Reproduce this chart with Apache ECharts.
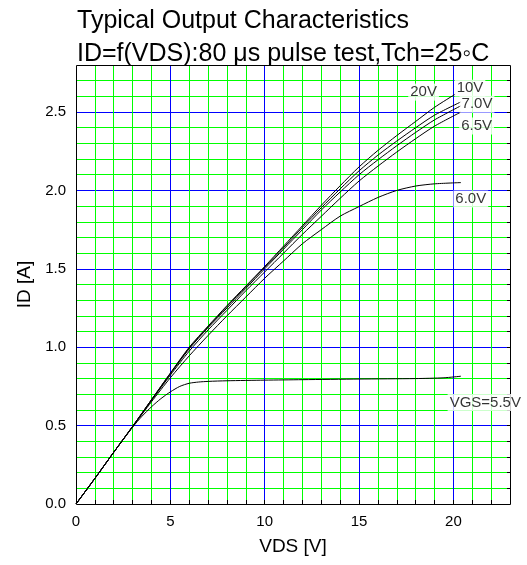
<!DOCTYPE html>
<html>
<head>
<meta charset="utf-8">
<script src="https://cdn.jsdelivr.net/npm/echarts@6/dist/echarts.min.js"></script>
<style>
  html, body { margin: 0; padding: 0; background: #fff; }
  #chart { width: 527px; height: 565px; }
</style>
</head>
<body>
<div id="chart"></div>
<script>
// Drain-source voltage sample points (V)
const vdsSteps   = [0, 1, 2, 3, 4, 5, 6, 7, 8, 9, 10, 11, 12, 13, 14, 15, 16, 17, 18, 19, 20.4];
const vdsSteps20 = [0, 1, 2, 3, 4, 5, 6, 7, 8, 9, 10, 11, 12, 13, 14, 15, 16, 17, 18, 19, 20.1];
const vdsSteps55 = [0, 1, 2, 3, 3.5, 4, 4.5, 5, 5.5, 6, 6.5, 7, 8, 10, 12, 15, 18, 19.5, 20.4];

// Drain current (A) for each gate-source voltage
const idVgs20 = [0, 0.163, 0.33, 0.495, 0.665, 0.835, 1.0, 1.135, 1.265, 1.39, 1.515, 1.645, 1.775, 1.905, 2.03, 2.15, 2.255, 2.35, 2.44, 2.53, 2.614];
const idVgs10 = [0, 0.163, 0.33, 0.495, 0.665, 0.833, 0.995, 1.13, 1.26, 1.385, 1.51, 1.635, 1.765, 1.89, 2.01, 2.125, 2.225, 2.315, 2.4, 2.48, 2.565];
const idVgs70 = [0, 0.163, 0.33, 0.495, 0.663, 0.83, 0.99, 1.125, 1.25, 1.375, 1.5, 1.625, 1.75, 1.875, 1.99, 2.1, 2.195, 2.285, 2.37, 2.45, 2.54];
const idVgs65 = [0, 0.163, 0.33, 0.494, 0.66, 0.822, 0.975, 1.11, 1.235, 1.36, 1.48, 1.6, 1.72, 1.835, 1.95, 2.06, 2.155, 2.245, 2.33, 2.41, 2.5];
const idVgs60 = [0, 0.163, 0.33, 0.492, 0.652, 0.805, 0.945, 1.075, 1.2, 1.32, 1.44, 1.55, 1.66, 1.75, 1.836, 1.897, 1.955, 2.0, 2.028, 2.042, 2.05];
const idVgs55 = [0, 0.163, 0.33, 0.49, 0.56, 0.62, 0.672, 0.715, 0.75, 0.77, 0.778, 0.782, 0.786, 0.79, 0.793, 0.797, 0.8, 0.805, 0.815];

// Curve tags and where they sit (V, A)
const curveTags = ['20V', '10V', '7.0V', '6.5V', '6.0V', 'VGS=5.5V'];
const tagAnchors = [[18.42, 2.627], [20.88, 2.652], [21.25, 2.55], [21.23, 2.411], [20.92, 1.946], [21.69, 0.647]];

const titleLines = ['Typical Output Characteristics', 'ID=f(VDS):80 \u03bcs pulse test,Tch=25\u25e6C'];
const xName = 'VDS [V]';
const yName = 'ID [A]';

const FONT = '"Liberation Sans", Arial, Helvetica, sans-serif';
const GREEN = '#00ff00';
const BLUE = '#0000ff';
// every fifth grid line is a major (blue) one
const gridColors = [GREEN, GREEN, GREEN, GREEN, BLUE];

function zip(xs, ys) { return xs.map((x, i) => [x, ys[i]]); }

const curves = [
  zip(vdsSteps20, idVgs20),
  zip(vdsSteps, idVgs10),
  zip(vdsSteps, idVgs70),
  zip(vdsSteps, idVgs65),
  zip(vdsSteps, idVgs60),
  zip(vdsSteps55, idVgs55)
];

const plot = { left: 76, top: 65, width: 434, height: 439 };

const series = curves.map(pts => ({
  type: 'line',
  data: pts,
  showSymbol: false,
  smooth: 0.25,
  lineStyle: { color: '#000', width: 1 },
  z: 3
}));

series.push({
  type: 'scatter',
  symbolSize: 0,
  z: 60,
  data: curveTags.map((t, i) => ({ value: tagAnchors[i], name: t })),
  label: {
    show: true,
    position: 'inside',
    formatter: p => p.name,
    fontFamily: FONT,
    fontSize: 15,
    color: '#000',
    backgroundColor: '#fff',
    padding: [1, 2]
  }
});

const isMultiple = (v, step) => Math.abs(v / step - Math.round(v / step)) < 1e-6;

const chart = echarts.init(document.getElementById('chart'), null, { renderer: 'canvas' });
chart.setOption({
  animation: false,
  backgroundColor: '#fff',
  textStyle: { fontFamily: FONT },
  title: {
    text: titleLines.join('\n'),
    left: 77,
    top: 5,
    padding: 0,
    textStyle: { fontFamily: FONT, fontSize: 25, fontWeight: 'normal', color: '#000', lineHeight: 33 }
  },
  grid: Object.assign({ show: false }, plot),
  xAxis: {
    type: 'value', min: 0, max: 23, interval: 1, position: 'bottom',
    axisLine: { show: false },
    axisTick: { show: true, inside: true, length: 4, lineStyle: { color: '#000' } },
    axisLabel: {
      fontFamily: FONT, fontSize: 15, color: '#000', margin: 10, showMaxLabel: false,
      formatter: v => (isMultiple(v, 5) ? String(v) : '')
    },
    splitLine: { show: true, showMinLine: false, showMaxLine: false, lineStyle: { color: gridColors, width: 1 } },
    name: xName, nameLocation: 'middle', nameGap: 33,
    nameTextStyle: { fontFamily: FONT, fontSize: 19, color: '#000' }
  },
  yAxis: [
    {
      type: 'value', min: 0, max: 2.8, interval: 0.1, position: 'left',
      axisLine: { show: false },
      axisTick: { show: false },
      axisLabel: {
        fontFamily: FONT, fontSize: 15, color: '#000', margin: 10, showMaxLabel: false,
        formatter: v => (isMultiple(v, 0.5) ? v.toFixed(1) : '')
      },
      splitLine: { show: true, showMinLine: false, showMaxLine: false, lineStyle: { color: gridColors, width: 1 } },
      name: yName, nameLocation: 'middle', nameGap: 42, nameRotate: 90,
      nameTextStyle: { fontFamily: FONT, fontSize: 19, color: '#000' }
    },
    {
      type: 'value', min: 0, max: 2.8, interval: 0.1, position: 'right',
      axisLine: { show: false },
      axisTick: { show: true, inside: true, length: 3, lineStyle: { color: '#000' } },
      axisLabel: { show: false },
      splitLine: { show: false }
    }
  ],
  graphic: [{
    type: 'rect',
    silent: true,
    z: 50,
    shape: { x: plot.left + 0.5, y: plot.top + 0.5, width: plot.width, height: plot.height },
    style: { fill: null, stroke: '#000', lineWidth: 1 }
  }],
  series: series
});
</script>
</body>
</html>
